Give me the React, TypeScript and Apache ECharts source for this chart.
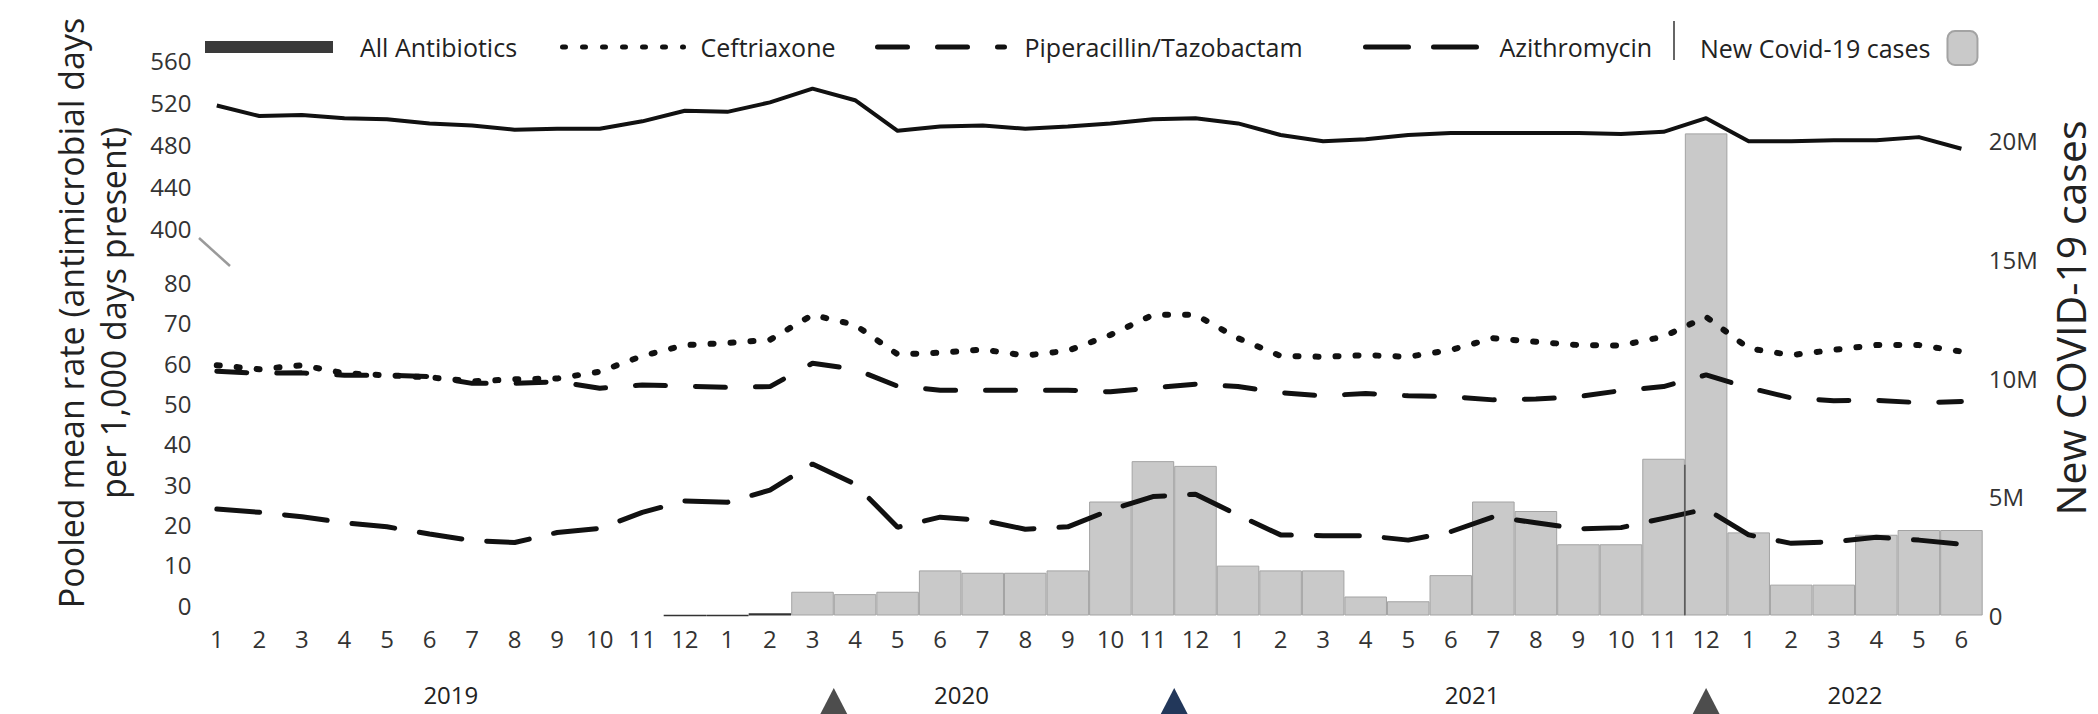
import { useEffect, useRef } from "react";
import * as echarts from "echarts";

const FONT = '"Open Sans", "Noto Sans", sans-serif';
const INK = "#222";

// Monthly axis, Jan 2019 – Jun 2022
const years = ["2019", "2020", "2021", "2022"];
const monthsInYear = [12, 12, 12, 6];
const months = years.flatMap((y, k) =>
  Array.from({ length: monthsInYear[k] }, (_, m) => `${y}-${m + 1}`)
);

// Pooled mean rate, antimicrobial days per 1,000 days present
const allAntibiotics = [
  517, 507, 508, 505, 504, 500, 498, 494, 495, 495,
  502, 512, 511, 520, 533, 522, 493, 497, 498, 495,
  497, 500, 504, 505, 500, 489, 483, 485, 489, 491,
  491, 491, 491, 490, 492, 505, 483, 483, 484, 484,
  487, 476,
];
const ceftriaxone = [
  59.5, 58.5, 59.5, 57.5, 57, 56.5, 55.5, 56, 56.2, 57.9,
  61.8, 64.5, 65, 65.8, 72, 69.5, 62.2, 62.6, 63.4, 61.9,
  63.1, 67, 72, 72, 66.2, 61.8, 61.6, 62, 61.6, 63.3,
  66.2, 65.3, 64.5, 64.4, 66.6, 71.5, 63.7, 62, 63.3, 64.5,
  64.5, 62.9,
];
const piperacillinTazobactam = [
  58, 57.5, 57.6, 57, 57, 56.7, 55, 55, 55.4, 53.8,
  54.6, 54.3, 54, 54.2, 60, 58.5, 54.3, 53.3, 53.3, 53.3,
  53.3, 52.9, 53.9, 54.8, 54.2, 52.7, 51.9, 52.5, 51.9, 51.7,
  50.9, 51.1, 51.7, 53.2, 54.2, 57.1, 53.9, 51.4, 50.7, 50.8,
  50.2, 50.5,
];
const azithromycin = [
  23.8, 23, 21.9, 20.4, 19.4, 17.6, 16, 15.5, 18, 19,
  23, 25.8, 25.5, 28.5, 35, 30, 19.3, 21.8, 21, 18.8,
  19.4, 23.6, 26.9, 27.5, 22.3, 17.4, 17.2, 17.2, 16.1, 18.2,
  21.9, 20.4, 18.9, 19.2, 21.5, 23.8, 17.4, 15.3, 15.7, 16.8,
  16.1, 15.1,
];
// New COVID-19 cases per month, in millions
const covidCasesM: (number | null)[] = [
  null, null, null, null, null, null, null, null, null, null,
  null, 0.01, 0.01, 0.1, 1.0, 0.9, 1.0, 1.9, 1.8, 1.8,
  1.9, 4.8, 6.5, 6.3, 2.1, 1.9, 1.9, 0.8, 0.6, 1.7,
  4.8, 4.4, 3.0, 3.0, 6.6, 20.3, 3.5, 1.3, 1.3, 3.4,
  3.6, 3.6,
];

// Broken left scale: upper band and lower band, plus the cases scale
const upperScale = { min: 400, max: 560, step: 40 };
const lowerScale = { min: 0, max: 80, step: 10 };
const casesScale = { min: 0, max: 25, step: 5 };

// Triangle markers under the month axis (between / at months)
const waveMarks = [
  { from: "2020-3", to: "2020-4", color: "#4d4d4d" },
  { from: "2020-11", to: "2020-12", color: "#22375a" },
  { from: "2021-12", to: "2021-12", color: "#4d4d4d" },
];

const GRID_LEFT = 195.5;
const GRID_RIGHT = 115.3;

function buildOption(): echarts.EChartsOption {
  const tickLabel = { fontSize: 24, fontFamily: FONT, color: "#333" };
  const hiddenAxisParts = {
    axisLine: { show: false },
    axisTick: { show: false },
    splitLine: { show: false },
  };
  const legendText = (pad: number[]) => ({
    fontSize: 25,
    fontFamily: FONT,
    color: INK,
    lineHeight: 30,
    padding: pad,
  });
  // line-only legend keys: the marker that ECharts adds in the middle is hidden
  const lineLegend = (name: string, left: number, width: number, pad: number) => ({
    data: [name],
    left,
    top: 27,
    itemWidth: width,
    itemHeight: 14,
    selectedMode: false,
    itemStyle: { opacity: 0 },
    lineStyle: { width: 5 },
    textStyle: legendText([0, 0, 0, pad]),
  });

  return {
    animation: false,
    backgroundColor: "#ffffff",
    grid: [
      { left: GRID_LEFT, right: GRID_RIGHT, top: 60.2, height: 168.6 },
      { left: GRID_LEFT, right: GRID_RIGHT, top: 282.6, height: 322.4 },
      { left: GRID_LEFT, right: GRID_RIGHT, top: 21.75, height: 593.75 },
    ],
    xAxis: [0, 1, 2].map((g) => ({
      type: "category" as const,
      gridIndex: g,
      data: months,
      boundaryGap: true,
      ...hiddenAxisParts,
      axisLabel: {
        show: g === 2,
        interval: 0,
        margin: 11,
        formatter: (v: string) => v.split("-")[1],
        ...tickLabel,
      },
    })),
    yAxis: [
      {
        type: "value",
        gridIndex: 0,
        min: upperScale.min,
        max: upperScale.max,
        interval: upperScale.step,
        ...hiddenAxisParts,
        axisLabel: { margin: 4, ...tickLabel },
      },
      {
        type: "value",
        gridIndex: 1,
        min: lowerScale.min,
        max: lowerScale.max,
        interval: lowerScale.step,
        ...hiddenAxisParts,
        axisLabel: { margin: 4, ...tickLabel },
      },
      {
        type: "value",
        gridIndex: 2,
        position: "right",
        min: casesScale.min,
        max: casesScale.max,
        interval: casesScale.step,
        ...hiddenAxisParts,
        axisLabel: {
          margin: 6,
          showMaxLabel: false,
          formatter: (v: number) => (v === 0 ? "0" : `${v}M`),
          ...tickLabel,
        },
      },
    ],
    legend: [
      {
        data: [{ name: "All Antibiotics", icon: "rect", itemStyle: { color: "#3a3a3a" } }],
        left: 200,
        top: 27,
        itemWidth: 128,
        itemHeight: 12,
        selectedMode: false,
        textStyle: legendText([0, 0, 0, 22]),
      },
      lineLegend("Ceftriaxone", 555, 121, 12),
      lineLegend("Piperacillin/Tazobactam", 870, 127, 15),
      lineLegend("Azithromycin", 1358, 114, 15),
      {
        data: [{ name: "New Covid-19 cases", icon: "roundRect" }],
        left: 1695,
        top: 25,
        align: "right",
        itemWidth: 30,
        itemHeight: 34,
        selectedMode: false,
        textStyle: legendText([0, 12, 0, 0]),
      },
    ],
    series: [
      {
        name: "New Covid-19 cases",
        type: "bar",
        xAxisIndex: 2,
        yAxisIndex: 2,
        barCategoryGap: "0%",
        z: 1,
        itemStyle: { color: "#c9c9c9", borderColor: "#a3a3a3", borderWidth: 1 },
        data: covidCasesM.map((v) =>
          v !== null && v < 0.2
            ? { value: v, itemStyle: { borderColor: "#333", borderWidth: 1.5 } }
            : v
        ),
      },
      {
        name: "All Antibiotics",
        type: "line",
        xAxisIndex: 0,
        yAxisIndex: 0,
        symbol: "none",
        z: 5,
        itemStyle: { color: "#111" },
        lineStyle: { color: "#111", width: 4, join: "round" },
        data: allAntibiotics,
      },
      {
        name: "Ceftriaxone",
        type: "line",
        xAxisIndex: 1,
        yAxisIndex: 1,
        symbol: "none",
        z: 5,
        itemStyle: { color: "#111" },
        lineStyle: { color: "#111", width: 6, type: [3, 17], cap: "round" },
        data: ceftriaxone,
      },
      {
        name: "Piperacillin/Tazobactam",
        type: "line",
        xAxisIndex: 1,
        yAxisIndex: 1,
        symbol: "none",
        z: 5,
        itemStyle: { color: "#111" },
        lineStyle: { color: "#111", width: 5, type: [30, 30], cap: "round" },
        data: piperacillinTazobactam,
      },
      {
        name: "Azithromycin",
        type: "line",
        xAxisIndex: 1,
        yAxisIndex: 1,
        symbol: "none",
        z: 5,
        itemStyle: { color: "#111" },
        lineStyle: { color: "#111", width: 5, type: [43, 25], cap: "round" },
        data: azithromycin,
      },
    ],
  };
}

export default function App() {
  const ref = useRef<HTMLDivElement>(null);

  useEffect(() => {
    const el = ref.current;
    if (!el) return;
    const chart = echarts.init(el, undefined, { renderer: "svg" });
    chart.setOption(buildOption());

    const xPx = (cat: string) => chart.convertToPixel({ xAxisIndex: 2 }, cat) as number;
    const yCases = (v: number) => chart.convertToPixel({ yAxisIndex: 2 }, v) as number;
    const baseY = yCases(0);

    const textStyle = (text: string, size: number) => ({
      text,
      fontSize: size,
      fontFamily: FONT,
      fill: INK,
      align: "center",
      verticalAlign: "middle",
    });

    // Year captions centred under each year's months
    let start = 0;
    const yearLabels = years.map((y, k) => {
      const first = months[start];
      const last = months[start + monthsInYear[k] - 1];
      start += monthsInYear[k];
      return {
        type: "text",
        x: (xPx(first) + xPx(last)) / 2,
        y: 694,
        silent: true,
        style: textStyle(y, 24),
      };
    });

    // Edge of the Nov 2021 bar, drawn as a dark rule
    const edgeIdx = months.indexOf("2021-11");
    const edgeX = (xPx(months[edgeIdx]) + xPx(months[edgeIdx + 1])) / 2;
    const edgeTop = yCases(covidCasesM[edgeIdx] ?? 0);

    const marks = waveMarks.map((m) => {
      const cx = (xPx(m.from) + xPx(m.to)) / 2;
      return {
        type: "polygon",
        silent: true,
        shape: { points: [[cx - 15, 717], [cx, 688], [cx + 15, 717]] },
        style: { fill: m.color },
      };
    });

    chart.setOption({
      graphic: [
        {
          type: "text",
          x: 71,
          y: 313,
          rotation: Math.PI / 2,
          silent: true,
          style: textStyle("Pooled mean rate (antimicrobial days", 34),
        },
        {
          type: "text",
          x: 113,
          y: 313,
          rotation: Math.PI / 2,
          silent: true,
          style: textStyle("per 1,000 days present)", 34),
        },
        {
          type: "text",
          x: 2070,
          y: 318,
          rotation: Math.PI / 2,
          silent: true,
          style: textStyle("New COVID-19 cases", 41),
        },
        ...yearLabels,
        // axis break tick beside the 400 label
        {
          type: "line",
          silent: true,
          shape: { x1: 199, y1: 238, x2: 230, y2: 266 },
          style: { stroke: "#9a9a9a", lineWidth: 2.5 },
        },
        // legend separator
        {
          type: "line",
          silent: true,
          shape: { x1: 1674, y1: 21, x2: 1674, y2: 60 },
          style: { stroke: "#333", lineWidth: 1.5 },
        },
        {
          type: "line",
          silent: true,
          z: 10,
          shape: { x1: edgeX, y1: edgeTop + 6, x2: edgeX, y2: baseY },
          style: { stroke: "#555", lineWidth: 1.5 },
        },
        ...marks,
      ],
    });

    return () => chart.dispose();
  }, []);

  return (
    <div
      ref={ref}
      style={{
        position: "fixed",
        left: 0,
        top: 0,
        width: 2098,
        height: 714,
        background: "#fff",
      }}
    />
  );
}
